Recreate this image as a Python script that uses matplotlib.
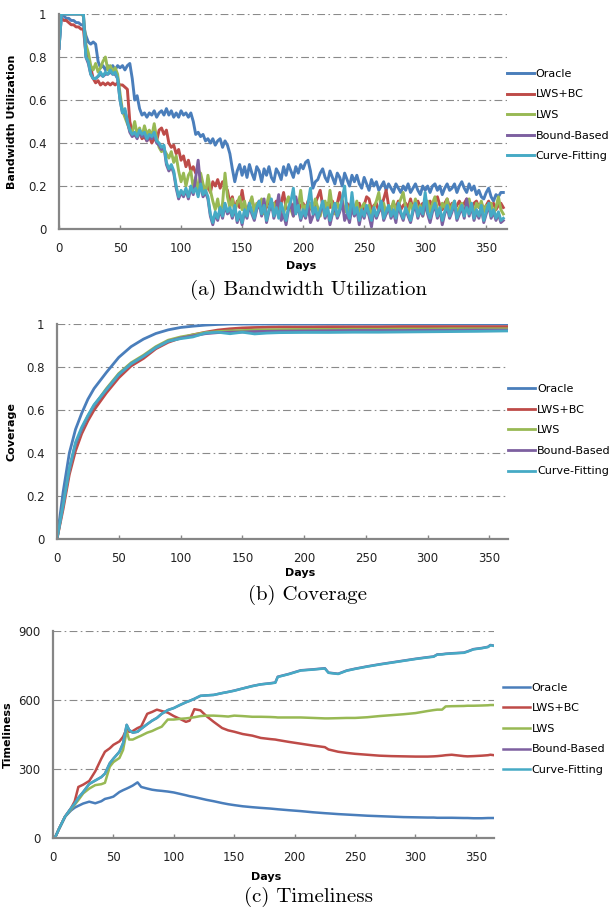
import numpy as np
import matplotlib
matplotlib.use("Agg")
import matplotlib.pyplot as plt


# ---------------- data ----------------
names = ["Oracle", "LWS+BC", "LWS", "Bound-Based", "Curve-Fitting"]
colors = ["#4A7EBB", "#BE4B48", "#98B954", "#7D60A0", "#46AAC5"]

# (a) bandwidth utilization, one sample every 2 days
bu_days = list(range(0, 365, 2))
bu_oracle = [
    0.84, 1.00, 0.99, 0.98, 0.98, 0.97, 0.97, 0.96, 0.96, 0.95,
    0.95, 0.90, 0.87, 0.86, 0.87, 0.86, 0.78, 0.75, 0.76, 0.74,
    0.76, 0.75, 0.76, 0.74, 0.76, 0.75, 0.76, 0.74, 0.76, 0.77,
    0.70, 0.60, 0.62, 0.56, 0.53, 0.54, 0.52, 0.54, 0.53, 0.55,
    0.52, 0.54, 0.55, 0.53, 0.56, 0.53, 0.55, 0.52, 0.54, 0.52,
    0.55, 0.53, 0.54, 0.52, 0.54, 0.50, 0.44, 0.45, 0.43, 0.44,
    0.41, 0.42, 0.40, 0.42, 0.39, 0.41, 0.42, 0.38, 0.41, 0.39,
    0.35, 0.28, 0.22, 0.27, 0.30, 0.25, 0.29, 0.24, 0.30, 0.26,
    0.23, 0.29, 0.27, 0.22, 0.28, 0.25, 0.29, 0.24, 0.22, 0.28,
    0.26, 0.23, 0.29, 0.25, 0.30, 0.27, 0.24, 0.29, 0.26, 0.30,
    0.28, 0.31, 0.32, 0.27, 0.19, 0.22, 0.23, 0.26, 0.28, 0.24,
    0.22, 0.27, 0.24, 0.21, 0.26, 0.24, 0.20, 0.26, 0.23, 0.20,
    0.25, 0.22, 0.25, 0.21, 0.19, 0.24, 0.21, 0.18, 0.23, 0.20,
    0.22, 0.18, 0.20, 0.22, 0.18, 0.21, 0.19, 0.17, 0.21, 0.19,
    0.17, 0.20, 0.18, 0.21, 0.17, 0.19, 0.21, 0.18, 0.16, 0.20,
    0.18, 0.20, 0.17, 0.20, 0.21, 0.18, 0.20, 0.16, 0.19, 0.21,
    0.18, 0.19, 0.21, 0.17, 0.20, 0.22, 0.19, 0.17, 0.21, 0.18,
    0.20, 0.16, 0.18, 0.15, 0.14, 0.17, 0.19, 0.15, 0.13, 0.16,
    0.15, 0.17, 0.17,
]
bu_lwsbc = [
    1.00, 0.98, 0.97, 0.97, 0.96, 0.95, 0.95, 0.94, 0.94, 0.93,
    0.93, 0.82, 0.78, 0.75, 0.70, 0.68, 0.69, 0.67, 0.68, 0.67,
    0.68, 0.67, 0.68, 0.67, 0.68, 0.67, 0.67, 0.66, 0.65, 0.50,
    0.45, 0.44, 0.43, 0.45, 0.42, 0.43, 0.41, 0.43, 0.40, 0.42,
    0.41, 0.46, 0.47, 0.44, 0.46, 0.40, 0.38, 0.39, 0.35, 0.37,
    0.32, 0.34, 0.29, 0.32, 0.27, 0.29, 0.26, 0.28, 0.24, 0.20,
    0.18, 0.20, 0.17, 0.22, 0.20, 0.23, 0.19, 0.22, 0.20, 0.18,
    0.12, 0.15, 0.09, 0.13, 0.10, 0.18, 0.11, 0.08, 0.12, 0.14,
    0.09, 0.11, 0.13, 0.08, 0.12, 0.10, 0.14, 0.09, 0.11, 0.13,
    0.08, 0.12, 0.17, 0.10, 0.09, 0.12, 0.10, 0.13, 0.08, 0.11,
    0.12, 0.09, 0.13, 0.10, 0.08, 0.12, 0.15, 0.18, 0.11, 0.09,
    0.12, 0.10, 0.13, 0.09, 0.12, 0.17, 0.10, 0.08, 0.12, 0.10,
    0.13, 0.09, 0.11, 0.12, 0.08, 0.11, 0.15, 0.14, 0.09, 0.11,
    0.12, 0.08, 0.10, 0.14, 0.18, 0.11, 0.09, 0.12, 0.10, 0.13,
    0.09, 0.11, 0.12, 0.10, 0.14, 0.09, 0.11, 0.13, 0.10, 0.12,
    0.09, 0.11, 0.13, 0.10, 0.12, 0.15, 0.11, 0.09, 0.12, 0.14,
    0.10, 0.12, 0.09, 0.11, 0.13, 0.10, 0.12, 0.14, 0.11, 0.09,
    0.12, 0.13, 0.10, 0.12, 0.09, 0.11, 0.13, 0.10, 0.12, 0.09,
    0.11, 0.12, 0.10,
]
bu_lws = [
    1.00, 1.00, 1.00, 1.00, 1.00, 1.00, 1.00, 1.00, 1.00, 1.00,
    0.99, 0.86, 0.82, 0.76, 0.74, 0.77, 0.73, 0.75, 0.78, 0.80,
    0.74, 0.76, 0.73, 0.75, 0.72, 0.63, 0.55, 0.52, 0.49, 0.46,
    0.45, 0.50, 0.44, 0.47, 0.43, 0.48, 0.44, 0.46, 0.43, 0.49,
    0.42, 0.38, 0.36, 0.37, 0.35, 0.33, 0.36, 0.31, 0.34, 0.27,
    0.22, 0.26, 0.20, 0.25, 0.27, 0.19, 0.24, 0.17, 0.26, 0.21,
    0.16, 0.25, 0.18, 0.13, 0.09, 0.14, 0.07, 0.12, 0.26, 0.15,
    0.10, 0.14, 0.08, 0.12, 0.15, 0.09, 0.13, 0.07, 0.11, 0.15,
    0.08, 0.12, 0.10, 0.14, 0.07, 0.11, 0.16, 0.09, 0.12, 0.08,
    0.13, 0.10, 0.07, 0.12, 0.15, 0.09, 0.06, 0.13, 0.10, 0.18,
    0.08, 0.11, 0.07, 0.12, 0.09, 0.14, 0.10, 0.06, 0.11, 0.13,
    0.08, 0.18, 0.10, 0.07, 0.12, 0.09, 0.14, 0.08, 0.11, 0.06,
    0.12, 0.09, 0.13, 0.07, 0.10, 0.12, 0.08, 0.11, 0.06, 0.10,
    0.13, 0.17, 0.09, 0.12, 0.07, 0.11, 0.09, 0.13, 0.08, 0.11,
    0.14, 0.17, 0.10, 0.07, 0.12, 0.09, 0.14, 0.08, 0.11, 0.06,
    0.10, 0.13, 0.08, 0.12, 0.15, 0.09, 0.07, 0.12, 0.10, 0.14,
    0.08, 0.11, 0.13, 0.07, 0.10, 0.12, 0.08, 0.11, 0.14, 0.09,
    0.07, 0.12, 0.10, 0.13, 0.08, 0.11, 0.09, 0.12, 0.07, 0.10,
    0.15, 0.09, 0.07,
]
bu_bound = [
    0.84, 1.00, 1.00, 1.00, 1.00, 1.00, 1.00, 1.00, 1.00, 1.00,
    1.00, 0.80, 0.77, 0.72, 0.70, 0.70, 0.71, 0.72, 0.71, 0.72,
    0.72, 0.73, 0.72, 0.72, 0.70, 0.60, 0.54, 0.55, 0.50, 0.45,
    0.43, 0.44, 0.42, 0.45, 0.43, 0.44, 0.41, 0.43, 0.42, 0.44,
    0.40, 0.39, 0.37, 0.38, 0.30, 0.27, 0.29, 0.26, 0.19, 0.14,
    0.17, 0.15, 0.18, 0.14, 0.19, 0.16, 0.24, 0.32, 0.20, 0.15,
    0.17, 0.14, 0.06, 0.02, 0.07, 0.04, 0.09, 0.05, 0.11, 0.07,
    0.09, 0.05, 0.10, 0.03, 0.07, 0.02, 0.08, 0.05, 0.11, 0.07,
    0.04, 0.09, 0.12, 0.06, 0.14, 0.03, 0.08, 0.13, 0.05, 0.09,
    0.16, 0.04, 0.07, 0.02, 0.09, 0.12, 0.06, 0.15, 0.10, 0.04,
    0.08, 0.05, 0.11, 0.03, 0.06, 0.09, 0.04, 0.08, 0.12, 0.05,
    0.09, 0.02, 0.07, 0.11, 0.05, 0.08, 0.13, 0.04, 0.07, 0.03,
    0.10, 0.06, 0.09, 0.02, 0.08, 0.05, 0.10, 0.06, 0.01, 0.09,
    0.05, 0.08, 0.12, 0.04, 0.07, 0.10, 0.05, 0.08, 0.03, 0.11,
    0.07, 0.04, 0.09, 0.06, 0.03, 0.08, 0.11, 0.05, 0.09, 0.06,
    0.12, 0.07, 0.03, 0.08, 0.11, 0.05, 0.09, 0.02, 0.07, 0.10,
    0.05, 0.08, 0.12, 0.04, 0.07, 0.10, 0.05, 0.14, 0.06, 0.11,
    0.04, 0.08, 0.05, 0.10, 0.03, 0.07, 0.11, 0.05, 0.08, 0.04,
    0.07, 0.03, 0.04,
]
bu_curve = [
    0.84, 1.00, 1.00, 1.00, 1.00, 1.00, 1.00, 1.00, 1.00, 1.00,
    1.00, 0.80, 0.78, 0.72, 0.70, 0.70, 0.71, 0.73, 0.71, 0.73,
    0.72, 0.74, 0.72, 0.73, 0.70, 0.60, 0.54, 0.56, 0.50, 0.46,
    0.44, 0.45, 0.43, 0.46, 0.44, 0.45, 0.42, 0.44, 0.43, 0.45,
    0.41, 0.40, 0.38, 0.39, 0.31, 0.28, 0.30, 0.27, 0.20, 0.15,
    0.18, 0.16, 0.19, 0.15, 0.20, 0.17, 0.19, 0.15, 0.21, 0.16,
    0.18, 0.15, 0.07, 0.03, 0.08, 0.05, 0.10, 0.06, 0.12, 0.08,
    0.10, 0.06, 0.11, 0.04, 0.08, 0.03, 0.09, 0.06, 0.12, 0.08,
    0.05, 0.10, 0.13, 0.07, 0.11, 0.04, 0.09, 0.14, 0.06, 0.10,
    0.05, 0.12, 0.08, 0.04, 0.10, 0.13, 0.19, 0.07, 0.11, 0.05,
    0.09, 0.06, 0.12, 0.19, 0.07, 0.10, 0.05, 0.09, 0.13, 0.06,
    0.10, 0.04, 0.08, 0.12, 0.06, 0.09, 0.14, 0.20, 0.08, 0.05,
    0.17, 0.07, 0.10, 0.04, 0.09, 0.06, 0.11, 0.07, 0.04, 0.10,
    0.06, 0.09, 0.13, 0.05, 0.08, 0.11, 0.06, 0.09, 0.05, 0.12,
    0.08, 0.05, 0.10, 0.07, 0.04, 0.09, 0.12, 0.06, 0.10, 0.07,
    0.17, 0.08, 0.05, 0.09, 0.12, 0.06, 0.10, 0.04, 0.08, 0.11,
    0.06, 0.09, 0.13, 0.05, 0.08, 0.11, 0.06, 0.10, 0.07, 0.12,
    0.05, 0.09, 0.06, 0.11, 0.04, 0.08, 0.12, 0.06, 0.09, 0.05,
    0.08, 0.04, 0.05,
]

# (b) coverage
cov_days = [0, 5, 10, 15, 20, 25, 30, 40, 50, 60, 70, 80, 90, 100, 110, 120,
            130, 140, 150, 160, 170, 180, 200, 220, 240, 260, 280, 300, 320, 340, 365]
cov_oracle = [0, 0.22, 0.40, 0.51, 0.585, 0.65, 0.70, 0.775, 0.845, 0.895, 0.93,
              0.956, 0.973, 0.984, 0.99, 0.995, 0.998, 1.0, 1.0, 1.0, 1.0, 1.0,
              1.0, 1.0, 1.0, 1.0, 1.0, 1.0, 1.0, 1.0, 1.0]
cov_lwsbc = [0, 0.14, 0.30, 0.41, 0.49, 0.55, 0.60, 0.68, 0.75, 0.805, 0.84,
             0.885, 0.915, 0.935, 0.95, 0.962, 0.972, 0.978, 0.982, 0.984, 0.985,
             0.986, 0.986, 0.987, 0.987, 0.987, 0.988, 0.988, 0.988, 0.988, 0.988]
cov_lws = [0, 0.16, 0.32, 0.44, 0.51, 0.57, 0.62, 0.70, 0.77, 0.82, 0.855,
           0.895, 0.925, 0.94, 0.95, 0.96, 0.965, 0.968, 0.97, 0.972, 0.973,
           0.974, 0.975, 0.975, 0.976, 0.976, 0.977, 0.977, 0.978, 0.978, 0.978]
cov_bound = [0, 0.16, 0.32, 0.44, 0.51, 0.57, 0.62, 0.695, 0.765, 0.815, 0.85,
             0.89, 0.92, 0.935, 0.945, 0.955, 0.96, 0.962, 0.963, 0.965, 0.966,
             0.967, 0.968, 0.969, 0.97, 0.97, 0.97, 0.971, 0.971, 0.972, 0.972]
cov_curve = [0, 0.16, 0.33, 0.45, 0.52, 0.575, 0.625, 0.695, 0.765, 0.815, 0.85,
             0.89, 0.92, 0.932, 0.94, 0.958, 0.962, 0.955, 0.962, 0.954, 0.958,
             0.960, 0.961, 0.961, 0.962, 0.962, 0.963, 0.964, 0.965, 0.966, 0.968]

# (c) timeliness
tl_days = [0, 2, 5, 10, 15, 18, 21, 25, 30, 35, 40, 43, 47, 50, 55, 58, 61, 63,
           66, 70, 73, 78, 82, 86, 90, 95, 100, 105, 110, 113, 117, 122, 127, 133,
           140, 145, 150, 157, 165, 172, 180, 184, 186, 195, 205, 215, 225, 228,
           236, 243, 250, 260, 270, 280, 290, 300, 310, 315, 318, 322, 325, 330,
           340, 343, 348, 355, 360, 362, 365]
tl_oracle = [0, 5, 40, 93, 120, 132, 140, 150, 158, 151, 160, 170, 175, 180, 200,
             208, 215, 220, 228, 242, 222, 215, 210, 207, 205, 202, 198, 192, 186,
             182, 178, 172, 166, 160, 152, 147, 143, 138, 134, 131, 128, 126, 125,
             121, 117, 112, 108, 107, 104, 102, 100, 97, 95, 93, 91, 90, 89, 89,
             88, 88, 88, 88, 87, 87, 86, 86, 87, 87, 87]
tl_lwsbc = [0, 5, 40, 93, 130, 160, 222, 232, 248, 290, 345, 375, 390, 405, 420,
            440, 475, 462, 465, 478, 485, 540, 548, 558, 552, 545, 530, 518, 505,
            510, 560, 555, 530, 505, 478, 468, 462, 452, 445, 435, 430, 428, 426,
            418, 410, 402, 395, 385, 375, 370, 366, 362, 358, 356, 355, 354, 354,
            355, 356, 358, 360, 362, 356, 355, 356, 358, 360, 362, 360]
tl_lws = [0, 5, 40, 93, 125, 145, 165, 194, 215, 230, 234, 240, 310, 330, 348,
          383, 465, 428, 428, 438, 445, 458, 465, 475, 484, 515, 515, 518, 520,
          522, 525, 530, 532, 532, 530, 528, 532, 530, 527, 527, 526, 525, 524,
          524, 524, 522, 520, 520, 521, 522, 522, 525, 530, 534, 538, 543, 552,
          556, 558, 558, 572, 573, 574, 575, 575, 576, 577, 578, 578]
tl_bound = [0, 5, 40, 93, 130, 150, 175, 200, 235, 250, 265, 280, 325, 345, 375,
            412, 492, 470, 458, 462, 475, 495, 510, 522, 540, 556, 565, 578, 590,
            596, 605, 618, 620, 622, 630, 635, 641, 650, 661, 668, 673, 676, 701,
            713, 729, 733, 738, 719, 714, 728, 736, 746, 755, 763, 771, 779, 786,
            789, 798, 799, 801, 803, 806, 811, 821, 826, 831, 839, 836]
tl_curve = [0, 5, 40, 93, 130, 150, 175, 200, 235, 250, 265, 280, 325, 345, 375,
            412, 492, 470, 458, 462, 475, 495, 510, 522, 540, 556, 565, 578, 590,
            596, 605, 618, 620, 622, 630, 635, 640, 650, 660, 668, 672, 675, 700,
            712, 728, 732, 737, 718, 713, 727, 735, 745, 754, 762, 770, 778, 785,
            788, 797, 798, 800, 802, 805, 810, 820, 825, 830, 838, 835]


def style_axes(ax, ylim, yticks, xmax, ylabel, ylab_x, xlab_pos):
    ax.set_xlim(0, xmax)
    ax.set_ylim(*ylim)
    ax.set_xticks(range(0, 351, 50))
    ax.set_yticks(yticks)
    ax.set_yticklabels(["%g" % t for t in yticks])
    for s in ["top", "right"]:
        ax.spines[s].set_visible(False)
    for s in ["left", "bottom"]:
        ax.spines[s].set_color("#868686")
        ax.spines[s].set_linewidth(1.6)
    ax.tick_params(axis="x", direction="in", length=3, width=1, color="#868686",
                   labelsize=8.5, pad=9, labelcolor="#222222")
    ax.tick_params(axis="y", length=0, labelsize=8.5, pad=9, labelcolor="#222222")
    for t in yticks[1:]:
        ax.axhline(t, color="#8a8a8a", lw=0.8, ls=(0, (7, 3, 1.5, 3)), zorder=0)
    ax.set_ylabel(ylabel, fontsize=8, fontweight="bold")
    ax.yaxis.set_label_coords(ylab_x, 0.5)
    ax.set_xlabel("Days", fontsize=8, fontweight="bold")
    ax.xaxis.set_label_coords(*xlab_pos)


fig = plt.figure(figsize=(6.16, 9.11), dpi=100)

# (a) Bandwidth Utilization
ax1 = fig.add_axes([0.0958, 0.7486, 0.7272, 0.236])
for ys, c, n in zip([bu_oracle, bu_lwsbc, bu_lws, bu_bound, bu_curve], colors, names):
    ax1.plot(bu_days, ys, color=c, lw=2.1, label=n, solid_joinstyle="round")
style_axes(ax1, (0, 1), [0, 0.2, 0.4, 0.6, 0.8, 1], 367,
           "Bandwidth Utilization", -0.094, (0.54, -0.15))
ax1.legend(loc="upper left", bbox_to_anchor=(1.0, 0.745), frameon=False,
           fontsize=8, handlelength=2.4, handletextpad=0.2, labelspacing=0.95,
           borderpad=0, borderaxespad=0)

# (b) Coverage
ax2 = fig.add_axes([0.0925, 0.4083, 0.7322, 0.236])
for ys, c, n in zip([cov_oracle, cov_lwsbc, cov_lws, cov_bound, cov_curve], colors, names):
    ax2.plot(cov_days, ys, color=c, lw=2.0, label=n, solid_joinstyle="round")
style_axes(ax2, (0, 1), [0, 0.2, 0.4, 0.6, 0.8, 1], 365,
           "Coverage", -0.089, (0.54, -0.135))
ax2.legend(loc="upper left", bbox_to_anchor=(1.0, 0.72), frameon=False,
           fontsize=8, handlelength=2.4, handletextpad=0.2, labelspacing=0.95,
           borderpad=0, borderaxespad=0)

# (c) Timeliness
ax3 = fig.add_axes([0.086, 0.0801, 0.716, 0.2273])
for ys, c, n in zip([tl_oracle, tl_lwsbc, tl_lws, tl_bound, tl_curve], colors, names):
    ax3.plot(tl_days, ys, color=c, lw=1.8, label=n, solid_joinstyle="round")
style_axes(ax3, (0, 900), [0, 300, 600, 900], 365,
           "Timeliness", -0.091, (0.483, -0.165))
ax3.legend(loc="upper left", bbox_to_anchor=(1.02, 0.75), frameon=False,
           fontsize=8, handlelength=2.4, handletextpad=0.2, labelspacing=0.95,
           borderpad=0, borderaxespad=0)

# captions
cap = dict(ha="center", va="center", fontsize=15, family="cmr10")
fig.text(0.5, 0.682, "(a) Bandwidth Utilization", **cap)
fig.text(0.5, 0.347, "(b) Coverage", **cap)
fig.text(0.5, 0.0155, "(c) Timeliness", **cap)

fig.savefig("out.png", dpi=100)
